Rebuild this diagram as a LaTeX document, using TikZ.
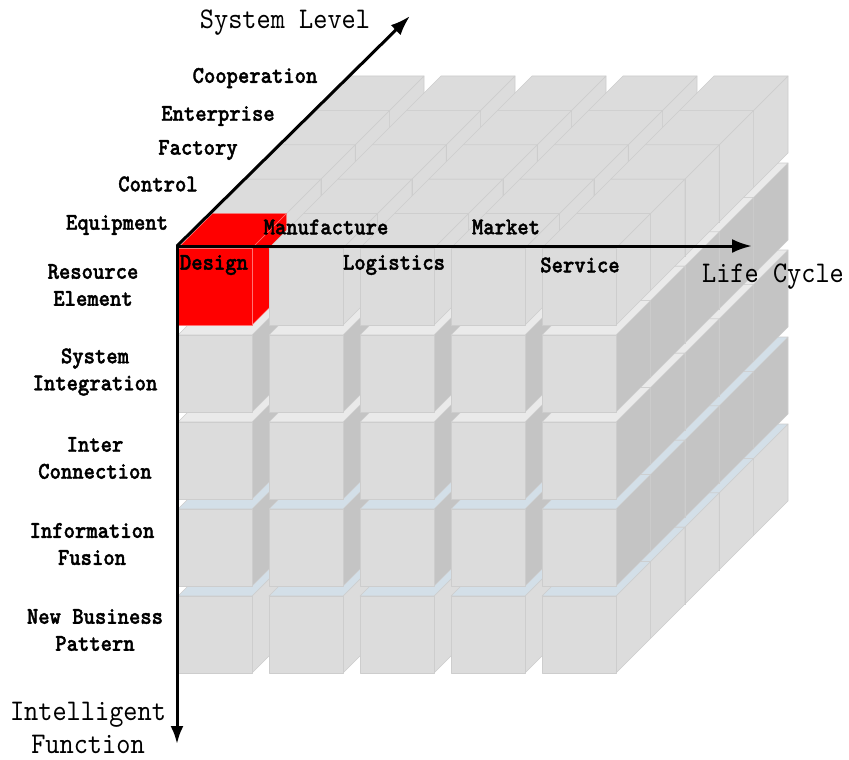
\documentclass[tikz,border=0pt]{standalone}
\usepackage{fontspec}
\usepackage{tikz}
\usetikzlibrary{arrows.meta}
\newfontfamily\axisfont[FakeStretch=0.9]{lmmono10-regular.otf}
\newfontfamily\lblfont[FakeStretch=0.9, FakeBold=1.6]{lmmonolt10-bold.otf}
\definecolor{cubeface}{HTML}{DCDCDC}
\definecolor{cubeside}{HTML}{C4C4C4}
\definecolor{cubeedge}{HTML}{CDCDCD}
\definecolor{topwhite}{HTML}{EAEAEA}
\definecolor{topblue}{HTML}{D3DFE8}
\tikzstyle{axis} = [line width=3pt, line join=miter]
\tikzstyle{axistitle} = [font=\axisfont\fontsize{30}{33}\selectfont, align=center, inner sep=0pt]
\tikzstyle{lbl} = [font=\lblfont\fontsize{24}{27}\selectfont, align=center, inner sep=0pt]
\tikzstyle{facet} = [line width=0.6pt, line join=round]
\newcommand{\drawcube}[6]{% x, y, front, top, side, edge
  \filldraw[facet, draw=#6, fill=#5] (#1+74,#2) -- ++(34.4,-34.4) -- ++(0,77) -- ++(-34.4,34.4) -- cycle;
  \filldraw[facet, draw=#6, fill=#4] (#1,#2) -- ++(34.4,-34.4) -- ++(74,0) -- ++(-34.4,34.4) -- cycle;
  \filldraw[facet, draw=#6, fill=#3] (#1,#2) rectangle ++(74,77);
}

\begin{document}
\begin{tikzpicture}[x=1pt, y=-1pt]
    \useasboundingbox (0,0) rectangle (849,760);
    \foreach \k in {4,3,2,1,0}
      \foreach \j/\tc/\sc in {4/topblue/cubeface, 3/topblue/cubeside, 2/topwhite/cubeside, 1/topwhite/cubeside, 0/cubeface/cubeface}
        \foreach \i in {0,...,4} {
          \pgfmathsetmacro\cx{178+91*\i+34.4*\k}
          \pgfmathsetmacro\cy{248+87*\j-34.4*\k}
          \ifnum\numexpr\i+\j+\k\relax=0
            \drawcube{\cx}{\cy}{red}{red}{red}{red!55!white}
          \else
            \drawcube{\cx}{\cy}{cubeface}{\tc}{\sc}{cubeedge}
          \fi
        }

    \coordinate (o) at (177,246);
    \coordinate (slend) at (410,16);
    \coordinate (lcend) at (752,246);
    \coordinate (ifend) at (177,744);
    \draw[axis, {Latex[length=18pt,width=13pt]}-{Latex[length=20pt,width=14pt]}] (ifend) -- (o) -- (lcend);
    \draw[axis, -{Latex[length=20pt,width=14pt]}] (o) -- (slend);

    \node[axistitle] (sl) at (285,23) {System Level};
    \node[axistitle] (lc) at (773,277) {Life Cycle};
    \node[axistitle] (ifn) at (88,728) {Intelligent\\Function};

    \node[lbl] (coop) at (255,78) {Cooperation};
    \node[lbl] (ent) at (218,116) {Enterprise};
    \node[lbl] (fac) at (198,150) {Factory};
    \node[lbl] (ctl) at (158,184) {Control};
    \node[lbl] (equ) at (117,225) {Equipment};

    \node[lbl] (des) at (214,265) {Design};
    \node[lbl] (man) at (326,227) {Manufacture};
    \node[lbl] (log) at (394,265) {Logistics};
    \node[lbl] (mkt) at (506,227) {Market};
    \node[lbl] (svc) at (580,265) {Service};

    \node[lbl] (res) at (93,285) {Resource\\Element};
    \node[lbl] (sysint) at (95,372) {System\\Integration};
    \node[lbl] (inter) at (95,458) {Inter\\Connection};
    \node[lbl] (info) at (92,544) {Information\\Fusion};
    \node[lbl] (newbiz) at (95,630) {New Business\\Pattern};
\end{tikzpicture}
\end{document}
